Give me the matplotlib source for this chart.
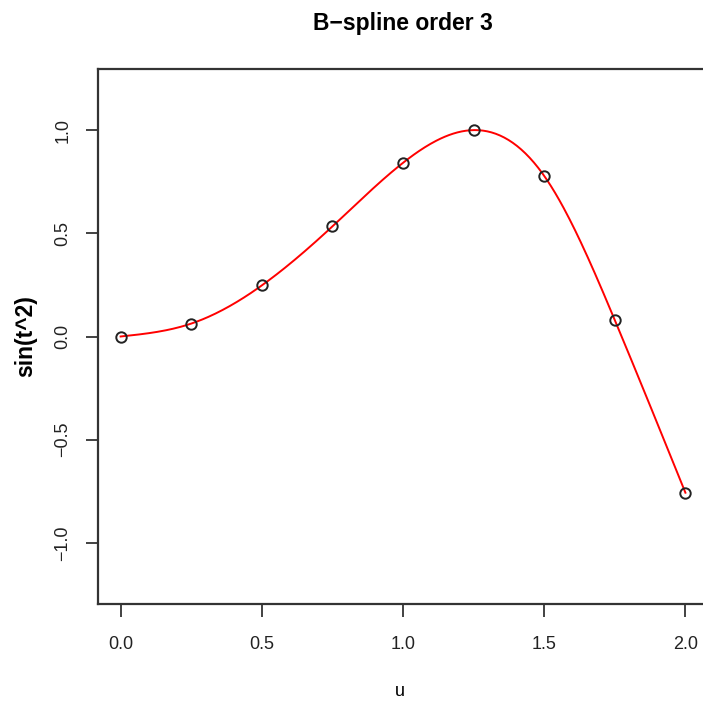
import numpy as np
import matplotlib.pyplot as plt

plt.rcParams['font.family'] = ['Liberation Sans', 'DejaVu Sans']

# knots and sampled values of sin(t^2)
u = [0.0, 0.25, 0.5, 0.75, 1.0, 1.25, 1.5, 1.75, 2.0]
y = [0.0, 0.0625, 0.2474, 0.5333, 0.8415, 1.0000, 0.7781, 0.0794, -0.7568]
xticks = [0.0, 0.5, 1.0, 1.5, 2.0]
yticks = [-1.0, -0.5, 0.0, 0.5, 1.0]


def natural_cubic(xk, yk, xs):
    # natural cubic spline through the knots
    xk = np.asarray(xk, float)
    yk = np.asarray(yk, float)
    n = len(xk)
    h = np.diff(xk)
    A = np.zeros((n, n))
    b = np.zeros(n)
    A[0, 0] = A[-1, -1] = 1.0
    for i in range(1, n - 1):
        A[i, i - 1] = h[i - 1]
        A[i, i] = 2 * (h[i - 1] + h[i])
        A[i, i + 1] = h[i]
        b[i] = 3 * ((yk[i + 1] - yk[i]) / h[i] - (yk[i] - yk[i - 1]) / h[i - 1])
    c = np.linalg.solve(A, b)
    idx = np.clip(np.searchsorted(xk, xs) - 1, 0, n - 2)
    dx = xs - xk[idx]
    bb = (yk[idx + 1] - yk[idx]) / h[idx] - h[idx] * (2 * c[idx] + c[idx + 1]) / 3
    d = (c[idx + 1] - c[idx]) / (3 * h[idx])
    return yk[idx] + bb * dx + c[idx] * dx**2 + d * dx**3


xs = np.linspace(u[0], u[-1], 400)
ys = natural_cubic(u, y, xs)

fig = plt.figure(figsize=(7.03, 7.04), dpi=100)
W, H = 703, 704
ax = fig.add_axes([98 / W, (H - 604) / H, 610 / W, 535 / H])

ax.plot(xs, ys, color='red', lw=1.4, zorder=2)
ax.plot(u, y, 'o', ms=7.5, mfc='none', mec='#222222', mew=1.4, zorder=3)

ax.set_xlim(-0.08, 2.08)
ax.set_ylim(-1.296, 1.296)
ax.set_xticks(xticks)
ax.set_xticklabels([f"{t:.1f}" for t in xticks])
ax.set_yticks(yticks)
ax.set_yticklabels([f"{t:.1f}".replace('-', '\u2212') for t in yticks],
                   rotation=90, va='center')

for s in ax.spines.values():
    s.set_linewidth(1.6)
    s.set_color('#333333')
ax.tick_params(direction='out', length=9, width=1.3, color='#333333',
               labelsize=13, labelcolor='#222222')
ax.tick_params(axis='x', pad=14)
ax.tick_params(axis='y', pad=10)

ax.set_title("B\u2212spline order 3", fontsize=16.5, fontweight='bold',
             pad=28)
ax.set_xlabel("u", fontsize=13)
ax.xaxis.set_label_coords(0.495, -0.148)
ax.set_ylabel("sin(t^2)", fontsize=16.5, fontweight='bold')
ax.yaxis.set_label_coords(-0.1, 0.5)

fig.savefig("out.png", dpi=100)
